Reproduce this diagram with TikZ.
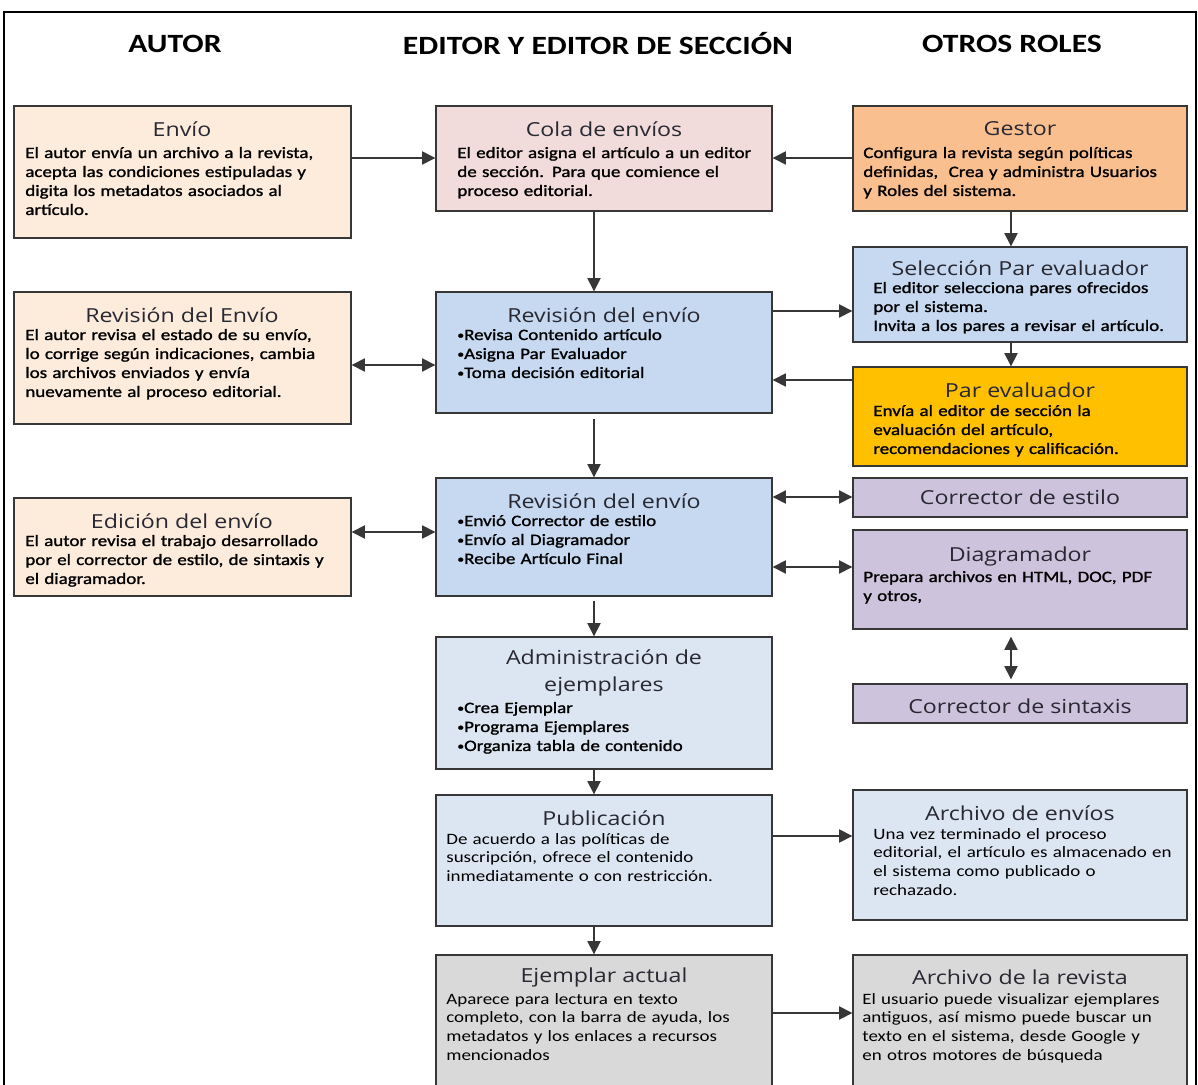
\documentclass[tikz,border=0pt]{standalone}
\usepackage{fontspec}
\setmainfont[FakeStretch=1.2]{Carlito}
\newfontfamily\ttlfont[FakeStretch=1.2]{Open Sans}
\newfontfamily\gruesa[FakeStretch=1.2, FakeBold=1.3]{Carlito}
\usetikzlibrary{arrows.meta}

\definecolor{cAutor}{RGB}{253,236,220}
\definecolor{cCola}{RGB}{242,220,219}
\definecolor{cGestor}{RGB}{250,191,143}
\definecolor{cRev}{RGB}{198,217,241}
\definecolor{cPar}{RGB}{255,192,0}
\definecolor{cLila}{RGB}{206,195,220}
\definecolor{cPub}{RGB}{220,230,242}
\definecolor{cGris}{RGB}{217,217,217}
\definecolor{cLine}{RGB}{55,55,55}
\definecolor{cTitle}{RGB}{40,40,50}

% viñeta pequeña
\newcommand\bul{{\fontsize{6.5}{7}\selectfont\raisebox{0.6pt}{•}}}

\begin{document}
\begin{tikzpicture}[x=0.02cm, y=-0.02cm]
    \tikzset{
        panel/.style={draw=cLine, line width=0.8pt, rectangle, inner sep=0pt},
        ttl/.style={font=\ttlfont\fontsize{11}{15.3}\selectfont, text=cTitle, align=center, inner sep=0pt},
        txt/.style={font=\gruesa\fontsize{9}{10.8}\selectfont, text width=7cm, align=left, anchor=base west, inner sep=0pt},
        txtr/.style={txt, font=\fontsize{9}{10.8}\selectfont},
        hdr/.style={font=\fontsize{15}{18}\selectfont\bfseries},
        arr/.style={draw=cLine, line width=0.9pt, -{Triangle[length=7.5pt,width=7.5pt]}},
        dbl/.style={arr, {Triangle[length=7.5pt,width=7.5pt]}-{Triangle[length=7.5pt,width=7.5pt]}}
    }
    \useasboundingbox (0,0) rectangle (1198,1085);
    \clip (0,0) rectangle (1198,1085);

    % Marco exterior
    \draw[line width=1.3pt] (4,1100) -- (4,12) -- (1196,12) -- (1196,1100);

    % Encabezados de columna
    \node[hdr] (hAutor) at (175,44) {AUTOR};
    \node[hdr] (hEditor) at (598,44) {EDITOR Y EDITOR DE SECCIÓN};
    \node[hdr] (hOtros) at (1012,44) {OTROS ROLES};

    % Cajas: nombre/x1/y1/x2/y2/color
    \foreach \nm/\xa/\ya/\xb/\yb/\col in {
        envio/14/106/351/238/cAutor, revA/14/292/351/424/cAutor, edic/14/498/351/596/cAutor,
        cola/436/106/772/211/cCola, revU/436/292/772/413/cRev, revD/436/478/772/596/cRev,
        admin/436/637/772/769/cPub, pub/436/795/772/926/cPub, ejem/436/955/772/1100/cGris,
        gestor/853/106/1187/211/cGestor, sel/853/247/1187/342/cRev, par/853/367/1187/466/cPar,
        corrE/853/478/1187/517/cLila, diag/853/530/1187/629/cLila, corrS/853/684/1187/723/cLila,
        archE/853/790/1187/920/cPub, archR/853/955/1187/1100/cGris}
    {
        \node[panel, fill=\col, minimum width={(\xb-\xa)*0.02cm}, minimum height={(\yb-\ya)*0.02cm}]
            (\nm) at ({(\xa+\xb)/2},{(\ya+\yb)/2}) {};
    }

    % Columna autor
    \node[ttl] (envioT) at (182,129) {Envío};
    \node[txt] (envioB) at (25,158) {El autor envía un archivo a la revista,\\acepta las condiciones estipuladas y\\digita los metadatos asociados al\\artículo.};
    \node[ttl] (revAT) at (182,315) {Revisión del Envío};
    \node[txt] (revAB) at (25,340) {El autor revisa el estado de su envío,\\lo corrige según indicaciones, cambia\\los archivos enviados y envía\\nuevamente al proceso editorial.};
    \node[ttl] (edicT) at (182,521) {Edición del envío};
    \node[txt] (edicB) at (25,546) {El autor revisa el trabajo desarrollado\\por el corrector de estilo, de sintaxis y\\el diagramador.};

    % Columna editor
    \node[ttl] (colaT) at (604,129) {Cola de envíos};
    \node[txt] (colaB) at (457,158) {El editor asigna el artículo a un editor\\de sección. Para que comience el\\proceso editorial.};
    \node[ttl] (revUT) at (604,315) {Revisión del envío};
    \node[txt] (revUB) at (457,340) {\bul Revisa Contenido artículo\\\bul Asigna Par Evaluador\\\bul Toma decisión editorial};
    \node[ttl] (revDT) at (604,501) {Revisión del envío};
    \node[txt] (revDB) at (457,526) {\bul Envió Corrector de estilo\\\bul Envío al Diagramador\\\bul Recibe Artículo Final};
    \node[ttl] (adminT) at (604,673) {Administración de\\ejemplares};
    \node[txt] (adminB) at (457,713) {\bul Crea Ejemplar\\\bul Programa Ejemplares\\\bul Organiza tabla de contenido};
    \node[ttl] (pubT) at (604,818) {Publicación};
    \node[txtr] (pubB) at (446,844) {De acuerdo a las políticas de\\suscripción, ofrece el contenido\\inmediatamente o con restricción.};
    \node[ttl] (ejemT) at (604,977) {Ejemplar actual};
    \node[txtr] (ejemB) at (446,1004) {Aparece para lectura en texto\\completo, con la barra de ayuda, los\\metadatos y los enlaces a recursos\\mencionados};

    % Otros roles
    \node[ttl] (gestorT) at (1020,129) {Gestor};
    \node[txt] (gestorB) at (863,158) {Configura la revista según políticas\\definidas,\ \ Crea y administra Usuarios\\y Roles del sistema.};
    \node[ttl] (selT) at (1020,268) {Selección Par evaluador};
    \node[txt] (selB) at (873,293) {El editor selecciona pares ofrecidos\\por el sistema.\\Invita a los pares a revisar el artículo.};
    \node[ttl] (parT) at (1020,390) {Par evaluador};
    \node[txt] (parB) at (873,416) {Envía al editor de sección la\\evaluación del artículo,\\recomendaciones y calificación.};
    \node[ttl] (corrET) at (1020,497) {Corrector de estilo};
    \node[ttl] (diagT) at (1020,556) {Diagramador};
    \node[txt] (diagB) at (863,582) {Prepara archivos en HTML, DOC, PDF\\y otros,};
    \node[ttl] (corrST) at (1020,706) {Corrector de sintaxis};
    \node[ttl] (archET) at (1020,813) {Archivo de envíos};
    \node[txtr] (archEB) at (873,839) {Una vez terminado el proceso\\editorial, el artículo es almacenado en\\el sistema como publicado o\\rechazado.};
    \node[ttl] (archRT) at (1020,977) {Archivo de la revista};
    \node[txtr] (archRB) at (862,1004) {El usuario puede visualizar ejemplares\\antiguos, así mismo puede buscar un\\texto en el sistema, desde Google y\\en otros motores de búsqueda};

    % Ejes de las flechas verticales
    \coordinate (mx) at (594,0);
    \coordinate (rx) at (1011,0);

    % Flechas horizontales
    \draw[arr] (envio.east |- 0,158) -- (cola.west |- 0,158);
    \draw[arr] (gestor.west |- 0,158) -- (cola.east |- 0,158);
    \draw[arr] (revU.east |- 0,311) -- (sel.west |- 0,311);
    \draw[arr] (par.west |- 0,380) -- (revU.east |- 0,380);
    \draw[dbl] (revA.east |- 0,365) -- (revU.west |- 0,365);
    \draw[dbl] (revD.east |- 0,497) -- (corrE.west |- 0,497);
    \draw[dbl] (edic.east |- 0,532) -- (revD.west |- 0,532);
    \draw[dbl] (revD.east |- 0,567) -- (diag.west |- 0,567);
    \draw[arr] (pub.east |- 0,836) -- (archE.west |- 0,836);
    \draw[arr] (ejem.east |- 0,1013) -- (archR.west |- 0,1013);

    % Flechas verticales
    \draw[arr] (cola.south -| mx) -- (revU.north -| mx);
    \draw[arr] ([yshift=-0.1cm]revU.south -| mx) -- (revD.north -| mx);
    \draw[arr] ([yshift=-0.08cm]revD.south -| mx) -- (admin.north -| mx);
    \draw[arr] (admin.south -| mx) -- (pub.north -| mx);
    \draw[arr] (pub.south -| mx) -- (ejem.north -| mx);
    \draw[arr] (gestor.south -| rx) -- (sel.north -| rx);
    \draw[arr] (sel.south -| rx) -- (par.north -| rx);
    \draw[dbl] ([yshift=-0.14cm]diag.south -| rx) -- ([yshift=0.08cm]corrS.north -| rx);
\end{tikzpicture}
\end{document}
